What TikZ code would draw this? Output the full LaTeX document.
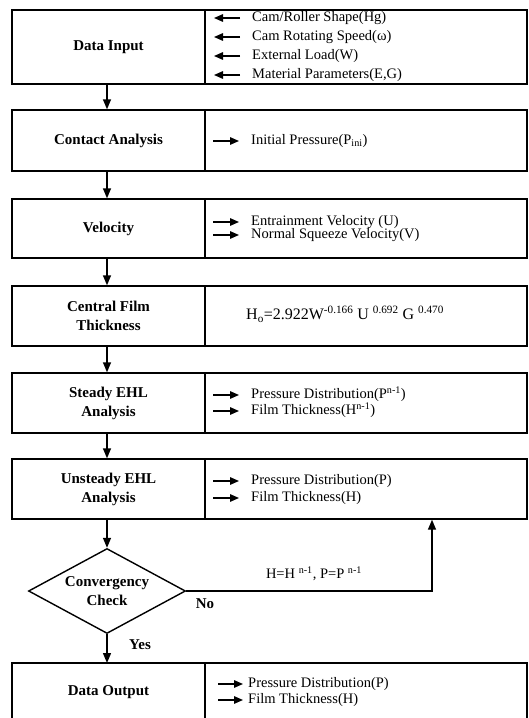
\documentclass[tikz,border=0pt]{standalone}
\usepackage{fontspec}
\setmainfont{Liberation Serif}
\usetikzlibrary{arrows.meta,shapes.geometric}
\begin{document}
\begin{tikzpicture}[x=1pt,y=1pt,
  box/.style={draw,line width=1.4pt,inner sep=0pt},
  lab/.style={font=\fontsize{15}{19}\selectfont\bfseries,align=center},
  item/.style={font=\fontsize{14.5}{17}\selectfont,anchor=west,inner sep=0pt,text height=10.5pt,text depth=3pt},
  flow/.style={line width=1.4pt,-{Triangle[width=8pt,length=10pt]}},
  rarr/.style={line width=1.4pt,-{Triangle[width=7.5pt,length=9pt]}},
]
\useasboundingbox (0,0) rectangle (529,-718);

% left boxes
\node[box,lab,minimum width=193pt,minimum height=74pt] (L1) at (108.5,-47) {Data Input};
\node[box,lab,minimum width=193pt,minimum height=61pt] (L2) at (108.5,-140.5) {Contact Analysis};
\node[box,lab,minimum width=193pt,minimum height=59pt] (L3) at (108.5,-228.5) {Velocity};
\node[box,lab,minimum width=193pt,minimum height=60pt] (L4) at (108.5,-316) {Central Film\\Thickness};
\node[box,lab,minimum width=193pt,minimum height=60pt] (L5) at (108.5,-403) {Steady EHL\\Analysis};
\node[box,lab,minimum width=193pt,minimum height=60pt] (L6) at (108.5,-489) {Unsteady EHL\\Analysis};

% right boxes
\node[box,minimum width=322pt,minimum height=74pt] (R1) at (366,-47) {};
\node[box,minimum width=322pt,minimum height=61pt] (R2) at (366,-140.5) {};
\node[box,minimum width=322pt,minimum height=59pt] (R3) at (366,-228.5) {};
\node[box,minimum width=322pt,minimum height=60pt] (R4) at (366,-316) {};
\node[box,minimum width=322pt,minimum height=60pt] (R5) at (366,-403) {};
\node[box,minimum width=322pt,minimum height=60pt] (R6) at (366,-489) {};

% last box (open at bottom)
\coordinate (L7n) at (107,-663);
\draw[line width=1.4pt] (12,-722) -- (12,-663) -- (527,-663) -- (527,-722);
\draw[line width=1.4pt] (205,-663) -- (205,-722);
\node[lab] (L7) at (108.5,-692) {Data Output};

% diamond
\node[draw,diamond,shape aspect=1.85,line width=1.4pt,minimum width=157pt,minimum height=85pt,inner sep=0pt,lab] (D) at (107,-591) {Convergency\\Check};

% items
\node[item] (t11) at (252,-18) {Cam/Roller Shape(Hg)};
\node[item] (t12) at (252,-37) {Cam Rotating Speed(ω)};
\node[item] (t13) at (252,-56) {External Load(W)};
\node[item] (t14) at (252,-75) {Material Parameters(E,G)};
\foreach \t in {t11,t12,t13,t14}{\draw[rarr] ([xshift=-12pt]\t.west) -- ([xshift=-38pt]\t.west);}

\node[item] (t21) at (251,-141) {Initial Pressure(P\textsubscript{ini})};
\node[item] (t31) at (251,-222) {Entrainment Velocity (U)};
\node[item] (t32) at (251,-235) {Normal Squeeze Velocity(V)};
\node[item,font=\fontsize{16}{18}\selectfont] (t41) at (246,-316) {H\textsubscript{o}=2.922W\textsuperscript{-0.166} U \textsuperscript{0.692} G \textsuperscript{0.470}};
\node[item] (t51) at (251,-395) {Pressure Distribution(P\textsuperscript{n-1})};
\node[item] (t52) at (251,-411) {Film Thickness(H\textsuperscript{n-1})};
\node[item] (t61) at (251,-481) {Pressure Distribution(P)};
\node[item] (t62) at (251,-498) {Film Thickness(H)};
\foreach \t in {t21,t31,t32,t51,t52,t61,t62}{\draw[rarr] ([xshift=-38pt]\t.west) -- ([xshift=-12pt]\t.west);}

\node[item] (t71) at (248,-684) {Pressure Distribution(P)};
\node[item] (t72) at (248,-700) {Film Thickness(H)};
\foreach \t in {t71,t72}{\draw[rarr] ([xshift=-30pt]\t.west) -- ([xshift=-5pt]\t.west);}

% flow arrows
\coordinate (ax) at (107,0);
\draw[flow] (L1.south -| ax) -- (L2.north -| ax);
\draw[flow] (L2.south -| ax) -- (L3.north -| ax);
\draw[flow] (L3.south -| ax) -- (L4.north -| ax);
\draw[flow] (L4.south -| ax) -- (L5.north -| ax);
\draw[flow] (L5.south -| ax) -- (L6.north -| ax);
\draw[flow] (L6.south -| ax) -- (D.north);
\draw[flow] (D.south) -- (L7n);
\coordinate (fbx) at (432,0);
\draw[flow] (D.east) -| (R6.south -| fbx);

% labels
\node[font=\fontsize{14.5}{17}\selectfont,inner sep=0pt] (fbl) at (314,-574) {H=H \textsuperscript{n-1}, P=P \textsuperscript{n-1}};
\node[lab,inner sep=0pt] (no) at (205,-604) {No};
\node[lab,inner sep=0pt] (yes) at (140,-645) {Yes};
\end{tikzpicture}
\end{document}
